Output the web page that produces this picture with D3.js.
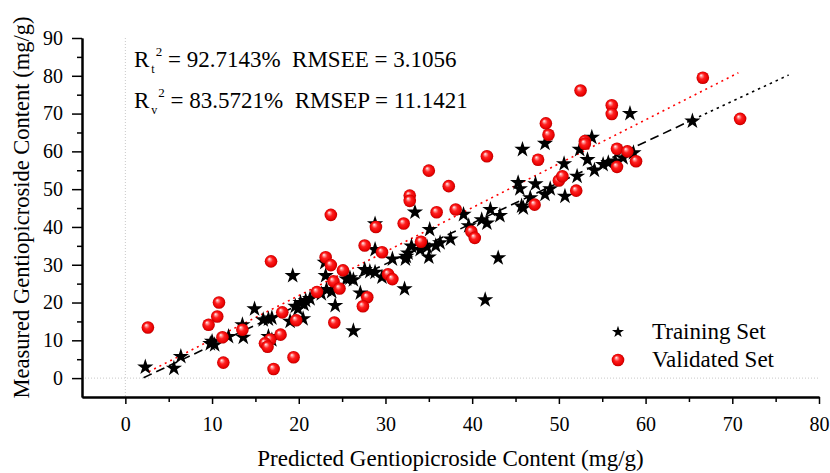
<!DOCTYPE html>
<html>
<head>
<meta charset="utf-8">
<script src="https://cdn.jsdelivr.net/npm/d3@7"></script>
<style>
    body { margin: 0; background: #fff; }
    svg text { font-family: "Liberation Serif", "Times New Roman", serif; fill: #000; }
</style>
</head>
<body>
<div id="chart"></div>
<script>
// Data
const trainPredicted = [2.3, 5.6, 6.4, 9.8, 10.3, 10.0, 11.9, 13.5, 13.6, 14.9, 15.9, 16.5, 16.9, 16.5, 16.9, 19.3, 19.0, 20.5, 19.6, 20.2, 20.8, 21.3, 19.9, 20.6, 23.0, 23.1, 23.2, 23.8, 22.6, 24.2, 25.5, 25.9, 26.3, 27.6, 28.2, 28.8, 27.1, 28.8, 28.8, 30.8, 32.3, 32.6, 32.2, 29.6, 45.8, 48.4, 50.6, 52.4, 45.3, 45.5, 47.3, 49.0, 48.4, 50.7, 52.1, 45.7, 45.9, 46.7, 33.4, 42.1, 43.2, 41.1, 41.7, 39.0, 39.6, 35.1, 36.3, 35.8, 37.5, 43.0, 35.0, 34.8, 34.0, 33.0, 32.4, 58.2, 53.8, 53.3, 54.1, 55.1, 55.7, 56.5, 57.4, 58.6, 65.4, 41.5, 26.3];
const trainMeasured = [2.9, 2.6, 5.7, 9.1, 8.8, 9.7, 11.0, 14.1, 10.8, 18.3, 15.4, 15.6, 15.9, 11.0, 10.1, 27.1, 15.0, 15.7, 19.0, 20.0, 20.5, 21.0, 18.3, 19.5, 30.6, 27.1, 23.4, 22.9, 22.3, 19.2, 26.2, 26.5, 26.0, 28.7, 28.2, 28.0, 22.5, 34.0, 40.8, 31.5, 31.5, 33.1, 23.6, 26.7, 60.5, 62.1, 56.7, 60.5, 51.7, 50.1, 51.4, 50.1, 48.6, 48.1, 53.4, 45.5, 45.0, 47.7, 43.9, 44.6, 43.0, 41.9, 41.0, 43.3, 40.3, 39.3, 35.8, 35.0, 36.8, 31.8, 32.0, 34.7, 34.0, 34.9, 32.2, 70.0, 63.7, 57.8, 55.0, 56.5, 57.0, 57.4, 58.3, 59.6, 68.0, 20.7, 12.5];

const validPredicted = [2.6, 10.8, 10.6, 9.6, 11.2, 11.3, 13.5, 16.8, 18.1, 17.9, 16.7, 16.1, 16.4, 19.4, 17.1, 19.7, 22.1, 23.1, 23.7, 25.1, 24.0, 24.7, 24.1, 23.7, 28.9, 32.1, 32.8, 32.8, 27.6, 29.6, 30.3, 30.8, 27.9, 27.4, 48.5, 48.8, 47.6, 41.7, 35.0, 37.3, 35.9, 38.1, 34.1, 39.9, 40.3, 47.2, 50.0, 50.4, 52.0, 56.1, 56.1, 53.0, 53.0, 56.7, 57.9, 58.9, 56.7, 66.6, 70.9, 52.5];
const validMeasured = [13.4, 20.0, 16.3, 14.1, 10.8, 4.1, 12.8, 30.9, 17.4, 11.5, 10.2, 9.2, 8.3, 5.5, 2.4, 15.3, 22.8, 32.0, 29.9, 28.5, 25.6, 23.7, 14.7, 43.2, 40.0, 40.9, 48.3, 46.9, 35.1, 33.3, 27.5, 26.2, 21.4, 19.0, 67.4, 64.4, 57.8, 58.7, 54.9, 50.8, 43.9, 44.6, 36.1, 38.8, 37.1, 45.9, 52.3, 53.4, 49.6, 72.2, 69.9, 62.7, 62.0, 60.7, 60.0, 57.4, 55.9, 79.5, 68.6, 76.1];

// fit lines: dashed part then dotted extension
const trainFitDashed = [[2.1, 0.1], [64.8, 67.7]];
const trainFitDotted = [[64.8, 67.7], [76.5, 80.2]];
const validFit = [[2.7, 1.7], [70.7, 80.8]];

const xTicks = [0, 10, 20, 30, 40, 50, 60, 70, 80];
const xMinorTicks = [5, 15, 25, 35, 45, 55, 65, 75];
const yTicks = [0, 10, 20, 30, 40, 50, 60, 70, 80, 90];
const yMinorTicks = [5, 15, 25, 35, 45, 55, 65, 75, 85];

const statsT = ['92.7143%', '3.1056'];
const statsV = ['83.5721%', '11.1421'];
const legendLabels = ['Training Set', 'Validated Set'];

function draw() {
    let dimensions = {
        width: 830,
        height: 473,
        left: 82,
        right: 11,
        top: 38,
        bottom: 76
    };
    const serif = '"Liberation Serif", "Times New Roman", serif';

    const svg = d3.select('#chart')
        .append('svg')
        .attr('width', dimensions.width)
        .attr('height', dimensions.height);

    const defs = svg.append('defs');
    const grad = defs.append('radialGradient')
        .attr('id', 'ball')
        .attr('cx', '50%').attr('cy', '50%').attr('r', '50%')
        .attr('fx', '35%').attr('fy', '30%');
    [[0, '#ffffff'], [0.18, '#ff9a9a'], [0.45, '#ff2020'], [0.85, '#e80000'], [1, '#b80000']]
        .forEach(([o, c]) => grad.append('stop').attr('offset', o).attr('stop-color', c));

    // Scales
    const xScale = d3.scaleLinear()
        .domain([-5, 80])
        .range([dimensions.left, dimensions.width - dimensions.right]);
    const yScale = d3.scaleLinear()
        .domain([-5, 90])
        .range([dimensions.height - dimensions.bottom, dimensions.top]);

    // zero reference lines
    svg.append('line')
        .attr('x1', xScale(0)).attr('x2', xScale(0))
        .attr('y1', yScale(90)).attr('y2', yScale(-5))
        .attr('stroke', '#c8c8c8').attr('stroke-dasharray', '1,2');
    svg.append('line')
        .attr('x1', xScale(-5)).attr('x2', xScale(80))
        .attr('y1', yScale(0)).attr('y2', yScale(0))
        .attr('stroke', '#c8c8c8').attr('stroke-dasharray', '1,2');

    // Axes
    const xAxisGroup = svg.append('g')
        .attr('transform', `translate(0, ${yScale(-5)})`);
    xAxisGroup.append('g')
        .call(d3.axisBottom(xScale).tickValues(xMinorTicks).tickSize(5).tickSizeOuter(0).tickFormat(''));
    xAxisGroup.append('g')
        .call(d3.axisBottom(xScale).tickValues(xTicks).tickSize(7).tickSizeOuter(0).tickPadding(13));

    const yAxisGroup = svg.append('g')
        .attr('transform', `translate(${xScale(-5)}, 0)`);
    yAxisGroup.append('g')
        .call(d3.axisLeft(yScale).tickValues(yMinorTicks).tickSize(5).tickSizeOuter(0).tickFormat(''));
    yAxisGroup.append('g')
        .call(d3.axisLeft(yScale).tickValues(yTicks).tickSize(10).tickSizeOuter(0).tickPadding(9));

    svg.selectAll('g').attr('font-family', serif);
    svg.selectAll('.domain').attr('stroke', '#000').attr('stroke-width', 2);
    svg.selectAll('.tick line').attr('stroke', '#000').attr('stroke-width', 1.5);
    svg.selectAll('.tick text')
        .attr('font-family', serif)
        .attr('font-size', 20)
        .attr('fill', '#000');

    // Axis titles
    svg.append('text')
        .attr('x', (xScale(-5) + xScale(80)) / 2)
        .attr('y', 466)
        .attr('text-anchor', 'middle')
        .style('font-size', '23px')
        .text('Predicted Gentiopicroside Content (mg/g)');
    svg.append('text')
        .attr('transform', `translate(29, ${(yScale(-5) + yScale(90)) / 2 - 10}) rotate(-90)`)
        .attr('text-anchor', 'middle')
        .style('font-size', '22.5px')
        .text('Measured Gentiopicroside Content (mg/g)');

    // Fit lines
    const line = d3.line().x(d => xScale(d[0])).y(d => yScale(d[1]));
    svg.append('path').datum(trainFitDashed)
        .attr('d', line).attr('fill', 'none')
        .attr('stroke', '#000').attr('stroke-width', 1.6).attr('stroke-dasharray', '9,5');
    svg.append('path').datum(trainFitDotted)
        .attr('d', line).attr('fill', 'none')
        .attr('stroke', '#000').attr('stroke-width', 1.6).attr('stroke-dasharray', '2.5,4');
    svg.append('path').datum(validFit)
        .attr('d', line).attr('fill', 'none')
        .attr('stroke', '#ff0000').attr('stroke-width', 1.6).attr('stroke-dasharray', '2,4');

    // Points
    const star = d3.symbol().type(d3.symbolStar).size(82);
    svg.append('g').selectAll('path')
        .data(d3.zip(trainPredicted, trainMeasured))
        .join('path')
        .attr('d', star)
        .attr('transform', d => `translate(${xScale(d[0])}, ${yScale(d[1])})`)
        .attr('fill', '#000');

    svg.append('g').selectAll('circle')
        .data(d3.zip(validPredicted, validMeasured))
        .join('circle')
        .attr('cx', d => xScale(d[0]))
        .attr('cy', d => yScale(d[1]))
        .attr('r', 6.3)
        .attr('fill', 'url(#ball)');

    // Stats text
    const stats = [['t', statsT, 'RMSEE'], ['v', statsV, 'RMSEP']];
    stats.forEach(([sub, vals, name], i) => {
        const t = svg.append('text')
            .attr('x', 134)
            .attr('y', 67 + i * 41)
            .style('font-size', '23px')
            .style('white-space', 'pre');
        t.append('tspan').text('R');
        t.append('tspan').attr('dx', 2).attr('dy', 6).style('font-size', '12px').text(sub);
        t.append('tspan').attr('dx', 1).attr('dy', -17).style('font-size', '13px').text('2');
        t.append('tspan').attr('dy', 11).text(` = ${vals[0]}  ${name} = ${vals[1]}`);
    });

    // Legend
    const legend = svg.append('g').attr('transform', 'translate(618, 332)');
    legend.append('path')
        .attr('d', d3.symbol().type(d3.symbolStar).size(45))
        .attr('fill', '#000');
    legend.append('circle')
        .attr('cy', 28).attr('r', 6.3)
        .attr('fill', 'url(#ball)');
    legend.selectAll('text')
        .data(legendLabels)
        .join('text')
        .attr('x', 34)
        .attr('y', (d, i) => 7 + i * 28)
        .style('font-size', '23px')
        .text(d => d);
}

draw();
</script>
</body>
</html>
